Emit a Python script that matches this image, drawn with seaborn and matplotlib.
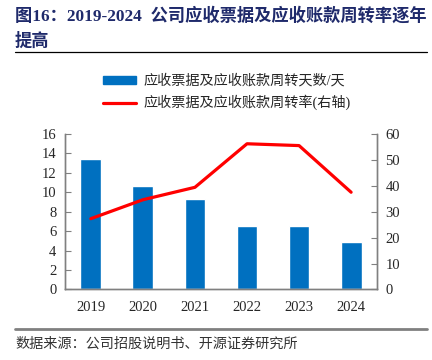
import numpy as np
import pandas as pd
import matplotlib.pyplot as plt
import matplotlib.lines as mlines
import matplotlib.patches as mpatches
import seaborn as sns

sns.set_style('white')
plt.rcParams['font.family'] = ['Liberation Serif', 'Noto Sans CJK SC']
plt.rcParams['axes.unicode_minus'] = False

years = ['2019', '2020', '2021', '2022', '2023', '2024']
days = [13.4, 10.65, 9.3, 6.5, 6.5, 4.85]
turnover = [27.3, 34.6, 39.4, 56.2, 55.5, 37.5]

bar_color = '#0070C0'
line_color = '#FF0000'
title_color = '#1F2A6B'

df = pd.DataFrame({'year': years, 'days': days, 'turnover': turnover})

fig = plt.figure(figsize=(4.32, 3.6), dpi=100)
ax = fig.add_axes([0.150, 0.196, 0.723, 0.432])

sns.barplot(data=df, x='year', y='days', color=bar_color, width=0.4,
            saturation=1, ax=ax)
ax.set_ylim(0, 16)
ax.set_yticks(range(0, 17, 2))
ax.set_xlim(-0.5, 5.5)
ax.set_xlabel('')
ax.set_ylabel('')

ax2 = ax.twinx()
sns.lineplot(x=np.arange(len(years)), y=df['turnover'], color=line_color,
             linewidth=2.3, ax=ax2)
ax2.set_ylim(0, 60)
ax2.set_yticks(range(0, 61, 10))
ax2.set_ylabel('')
ax2.set_xlim(-0.5, 5.5)

for a in (ax, ax2):
    for s in ['left', 'right', 'bottom']:
        a.spines[s].set_color('#808080')
        a.spines[s].set_linewidth(1)
    a.spines['top'].set_visible(False)
    a.tick_params(axis='y', direction='in', length=4, color='#808080',
                  labelsize=10.5, pad=6)
ax.tick_params(axis='x', length=0, labelsize=10.5, pad=8)
ax.tick_params(axis='y', left=True)
ax2.tick_params(axis='y', right=True)

# legend
h1 = mpatches.Patch(color=bar_color, label='应收票据及应收账款周转天数/天')
h2 = mlines.Line2D([], [], color=line_color, linewidth=2.3,
                   label='应收票据及应收账款周转率(右轴)')
fig.legend(handles=[h1, h2], loc='upper left', bbox_to_anchor=(0.21, 0.83),
           frameon=False, fontsize=10.2, handlelength=2.3, handleheight=0.5,
           handletextpad=0.5, labelspacing=0.5)

# title
fig.text(0.035, 0.955, '图16：2019-2024  公司应收票据及应收账款周转率逐年',
         fontsize=12.4, fontweight='bold', color=title_color, va='center')
fig.text(0.035, 0.885, '提高', fontsize=12.4, fontweight='bold',
         color=title_color, va='center')
fig.add_artist(mlines.Line2D([0.035, 0.988], [0.855, 0.855], color='black',
                             linewidth=0.9))

# source
fig.add_artist(mlines.Line2D([0.035, 0.988], [0.086, 0.086], color='#808080',
                             linewidth=2))
fig.text(0.035, 0.045, '数据来源：公司招股说明书、开源证券研究所', fontsize=10.2,
         color='#333333', va='center')

fig.savefig('out.png', dpi=100)
